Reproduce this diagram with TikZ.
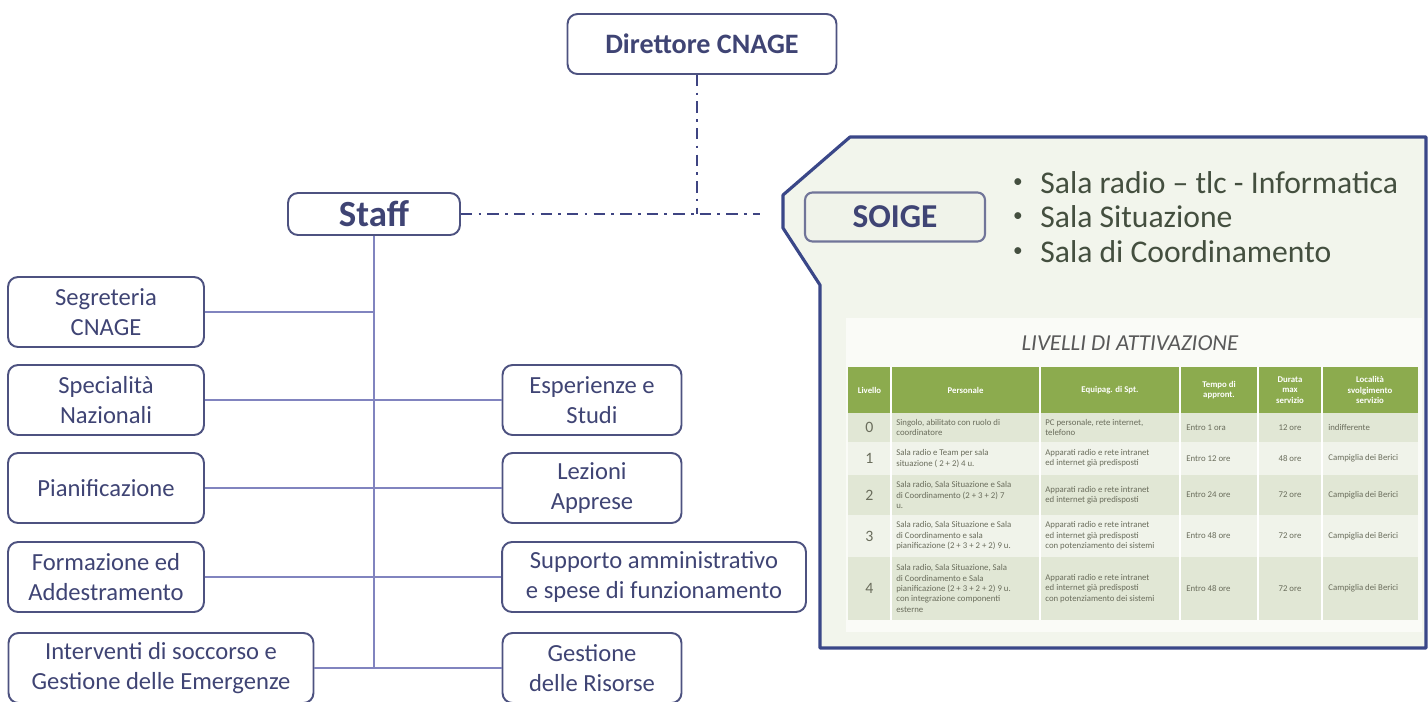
\documentclass[tikz,border=0pt]{standalone}
\usepackage{fontspec}
\setmainfont{Carlito}

\definecolor{boxline}{HTML}{4D5280}
\definecolor{boxtext}{HTML}{3F4474}
\definecolor{linkline}{HTML}{8184BF}
\definecolor{dashline}{HTML}{3E4482}
\definecolor{panelline}{HTML}{3A4788}
\definecolor{panelfill}{HTML}{F2F5EC}
\definecolor{tablebg}{HTML}{FAFBF7}
\definecolor{greenhead}{HTML}{8CAB4E}
\definecolor{rowdark}{HTML}{E1E7D5}
\definecolor{rowlight}{HTML}{F0F3EA}
\definecolor{celltext}{HTML}{6A6D5C}
\definecolor{listtext}{HTML}{444F3F}

\tikzset{
  unit/.style={draw=boxline, line width=1.1pt, rounded corners=0.2cm, fill=white,
    text=boxtext, align=center, inner sep=2pt, minimum height=1.4cm,
    font=\fontsize{14}{17}\selectfont},
  chief/.style={unit, font=\bfseries\fontsize{16}{19}\selectfont},
  link/.style={draw=linkline, line width=0.8pt},
  dashdotline/.style={draw=dashline, line width=1.6pt,
    dash pattern=on 6.5pt off 3.5pt on 1.6pt off 3.5pt},
  cell/.style={text=celltext, font=\fontsize{5}{5.9}\selectfont, align=left, inner sep=0pt},
  headcell/.style={text=white, font=\bfseries\fontsize{5}{5.9}\selectfont, align=center, inner sep=0pt},
}

\begin{document}
\begin{tikzpicture}[x=0.02cm, y=-0.02cm]
    \useasboundingbox (0,0) rectangle (1428,701);

    % direzione e staff
    \node [chief, minimum width=5.38cm, minimum height=1.2cm] (dir) at (702,44) {Direttore CNAGE};
    \node [chief, minimum width=3.44cm, minimum height=0.84cm, font=\bfseries\fontsize{21}{24}\selectfont] (staff) at (374,214) {Staff};

    % uffici a sinistra
    \node [unit, minimum width=3.92cm] (seg) at (106,312) {Segreteria\\CNAGE};
    \node [unit, minimum width=3.92cm] (spe) at (106,400) {Specialità\\Nazionali};
    \node [unit, minimum width=3.92cm] (pia) at (106,488) {Pianificazione};
    \node [unit, minimum width=3.92cm] (for) at (106,577) {Formazione ed\\Addestramento};
    \node [unit, minimum width=6.1cm] (int) at (161,668) {Interventi di soccorso e\\Gestione delle Emergenze};

    % uffici a destra
    \node [unit, minimum width=3.58cm] (esp) at (592,400) {Esperienze e\\Studi};
    \node [unit, minimum width=3.58cm] (lez) at (592,488) {Lezioni\\Apprese};
    \node [unit, minimum width=6.08cm] (sup) at (654,577) {Supporto amministrativo\\e spese di funzionamento};
    \node [unit, minimum width=3.58cm] (ges) at (592,668) {Gestione\\delle Risorse};

    % collegamenti
    \draw [link] (staff.south) -- (staff.south |- int.east);
    \draw [link] (seg.east) -- (seg.east -| staff.south);
    \draw [link] (spe.east) -- (esp.west);
    \draw [link] (pia.east) -- (lez.west);
    \draw [link] (for.east) -- (sup.west);
    \draw [link] (int.east) -- (ges.west);

    % linee di dipendenza funzionale
    \coordinate (soigein) at (760,214);
    \draw [dashdotline] (dir.south -| 697,0) -- (697,214);
    \draw [dashdotline] (staff.east) -- (soigein);

    % pannello SOIGE
    \draw [panelline, line width=1.8pt, fill=panelfill, line join=round]
        (850,137) -- (1426,137) -- (1426,648) -- (820,648) -- (820,285)
        -- (783,228) -- (783,195) -- cycle;
    \node [draw=boxline!80, line width=1.2pt, rounded corners=0.15cm, fill=rowlight,
        minimum width=3.6cm, minimum height=0.98cm, text=boxtext,
        font=\bfseries\fontsize{19}{22}\selectfont] (soige) at (895,217) {SOIGE};

    \foreach \y/\txt [count=\k] in {183/{Sala radio -- tlc - Informatica}, 217/{Sala Situazione}, 252/{Sala di Coordinamento}} {
        \node [text=listtext, font=\fontsize{11}{13}\selectfont] (dot\k) at (1018,\y) {•};
        \node [anchor=west, text=listtext, inner sep=0pt, font=\fontsize{18}{21}\selectfont] (sala\k) at (1040,\y) {\txt};
    }

    % tabella livelli
    \fill [tablebg] (846,318) rectangle (1422,632);
    \node [text=black!65, font=\itshape\fontsize{13}{15}\selectfont] (titolo) at (1130,343) {LIVELLI DI ATTIVAZIONE};
    \fill [greenhead] (848,367) rectangle (1418,413);
    \node [headcell] (h1) at (869.5,390) {Livello};
    \node [headcell] (h2) at (965.5,390) {Personale};
    \node [headcell] (h3) at (1110,390) {Equipag. di Spt.};
    \node [headcell] (h4) at (1219,390) {Tempo di\\appront.};
    \node [headcell] (h5) at (1290,390) {Durata\\max\\servizio};
    \node [headcell] (h6) at (1370,390) {Località\\svolgimento\\servizio};

    \foreach \lv/\top/\bot/\col/\per/\equ/\tem/\dur/\loc in {
        0/413/442/rowdark/{Singolo, abilitato con ruolo di\\coordinatore}/{PC personale, rete internet,\\telefono}/{Entro 1 ora}/{12 ore}/{indifferente},
        1/442/475/rowlight/{Sala radio e Team per sala\\situazione ( 2 + 2) 4 u.}/{Apparati radio e rete intranet\\ed internet già predisposti}/{Entro 12 ore}/{48 ore}/{Campiglia dei Berici},
        2/475/515/rowdark/{Sala radio, Sala Situazione e Sala\\di Coordinamento (2 + 3 + 2) 7\\u.}/{Apparati radio e rete intranet\\ed internet già predisposti}/{Entro 24 ore}/{72 ore}/{Campiglia dei Berici},
        3/515/557/rowlight/{Sala radio, Sala Situazione e Sala\\di Coordinamento e sala\\pianificazione (2 + 3 + 2 + 2) 9 u.}/{Apparati radio e rete intranet\\ed internet già predisposti\\con potenziamento dei sistemi}/{Entro  48 ore}/{72 ore}/{Campiglia dei Berici},
        4/557/620/rowdark/{Sala radio, Sala Situazione, Sala\\di Coordinamento e Sala\\pianificazione (2 + 3 + 2 + 2) 9 u.\\con integrazione componenti\\esterne}/{Apparati radio e rete intranet\\ed internet già predisposti\\con potenziamento dei sistemi}/{Entro 48 ore}/{72 ore}/{Campiglia dei Berici}} {
        \fill [\col] (848,\top) rectangle (1418,\bot);
        \node [cell, font=\fontsize{9}{10}\selectfont] (lv\lv) at (869.5,{(\top+\bot)/2}) {\lv};
        \node [cell, anchor=west] (per\lv) at (896,{(\top+\bot)/2}) {\per};
        \node [cell, anchor=west] (equ\lv) at (1045,{(\top+\bot)/2}) {\equ};
        \node [cell, anchor=west] (tem\lv) at (1186,{(\top+\bot)/2}) {\tem};
        \node [cell] (dur\lv) at (1290,{(\top+\bot)/2}) {\dur};
        \node [cell, anchor=west] (loc\lv) at (1328,{(\top+\bot)/2}) {\loc};
    }
    % separatori di colonna
    \foreach \x in {891,1040,1180,1258,1322} {
        \draw [white, line width=0.6pt] (\x,367) -- (\x,620);
    }
\end{tikzpicture}
\end{document}
